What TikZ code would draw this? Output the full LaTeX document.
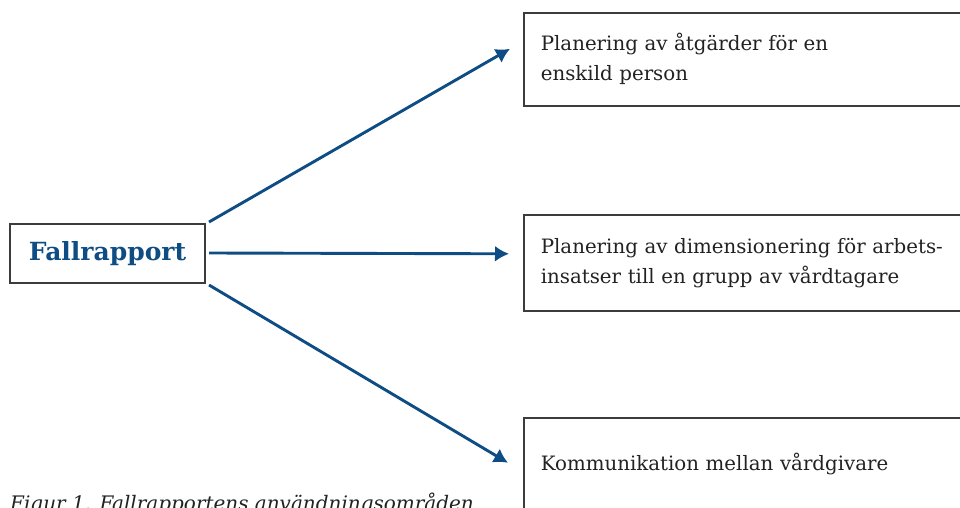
\documentclass[tikz,border=0pt]{standalone}
\usepackage{fontspec}
\setmainfont{DejaVu Serif}
\usetikzlibrary{arrows.meta}
\definecolor{fblue}{HTML}{0E4C84}
\definecolor{fgray}{HTML}{3C3C3C}
\definecolor{ftext}{HTML}{222222}
\begin{document}
\begin{tikzpicture}[x=1pt,y=-1pt,
  box/.style={draw=fgray,line width=1.6pt,anchor=north west,inner xsep=17pt,inner ysep=0pt,
    text width=420pt,align=left,font=\fontsize{19.8}{30}\selectfont,text=ftext},
  arr/.style={draw=fblue,line width=2.9pt,-{Latex[length=14pt,width=16pt]}}]
\useasboundingbox (0,0) rectangle (960,508);
\clip (0,0) rectangle (960,508);
\node[draw=fgray,line width=1.6pt,minimum width=195pt,minimum height=59pt,inner sep=0pt,
  text=fblue,font=\fontsize{25}{30}\selectfont\bfseries] (fall) at (107.5,253.5) {Fallrapport};
\node[box,minimum height=93pt] (b1) at (523,12) {Planering av åtgärder för en\\enskild person};
\node[box,minimum height=96pt] (b2) at (523,214) {Planering av dimensionering för arbets-\\insatser till en grupp av vårdtagare};
\node[box,minimum height=92pt] (b3) at (523,417) {Kommunikation mellan vårdgivare};
\coordinate (s1) at (209,222);
\coordinate (s2) at (209,253);
\coordinate (s3) at (209,285);
\draw[arr] (s1) -- ([xshift=-13pt,yshift=10.5pt]b1.west);
\draw[arr] (s2) -- ([xshift=-14pt,yshift=9pt]b2.west);
\draw[arr] (s3) -- ([xshift=-15pt,yshift=1pt]b3.west);
\node[anchor=base west,inner sep=0pt,font=\fontsize{20}{24}\selectfont\itshape,text=ftext] (cap) at (10,510) {Figur 1. Fallrapportens användningsområden};
\end{tikzpicture}
\end{document}
